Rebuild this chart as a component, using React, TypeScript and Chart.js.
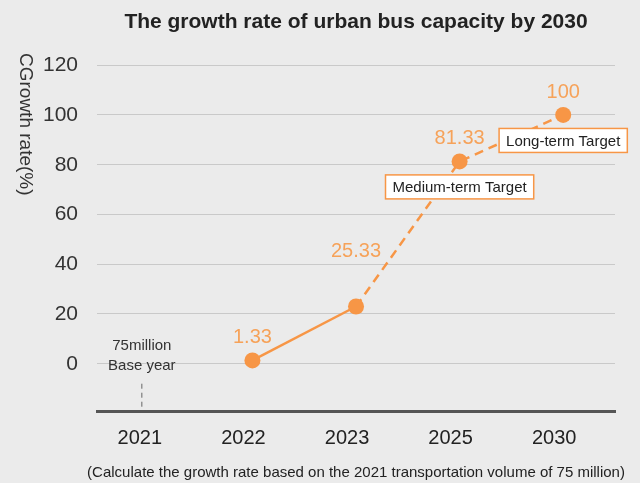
import React, { useEffect, useRef } from 'react';
import { Chart, registerables } from 'chart.js';

Chart.register(...registerables);

// ---- data ----
const years: string[] = ['2021', '2022', '2023', '2025', '2030'];
const growthValues: (number | null)[] = [null, 1.33, 23, 81.33, 100];
const valueLabels: string[] = ['', '1.33', '25.33', '81.33', '100'];
const targetLabels: string[] = ['', '', '', 'Medium-term Target', 'Long-term Target'];
const baseYearNote: string[] = ['75million', 'Base year'];
const yTickValues: number[] = [0, 20, 40, 60, 80, 100, 120];
const yMin = -19;
const yMax = 120;

const titleText = 'The growth rate of urban bus capacity by 2030';
const yTitleText = 'CGrowth rate(%)';
const footnoteText = '(Calculate the growth rate based on the 2021 transportation volume of 75 million)';

// ---- styles ----
const FONT = '"Liberation Sans", Arial, sans-serif';
const ORANGE = '#f79646';
const LABEL_ORANGE = '#f6a259';
const BG = '#ebebeb';
const labelLift = [0, 23, 55, 23, 22];

const bgPlugin = {
  id: 'bgFill',
  beforeDraw(chart: any) {
    const { ctx, width, height } = chart;
    ctx.save();
    ctx.fillStyle = BG;
    ctx.fillRect(0, 0, width, height);
    ctx.restore();
  },
};

const annotPlugin = {
  id: 'annot',
  afterDraw(chart: any) {
    const { ctx, chartArea } = chart;
    const meta = chart.getDatasetMeta(0);
    const xs = chart.scales.x;
    const ys = chart.scales.y;
    ctx.save();

    // y axis title (rotated)
    ctx.font = `19px ${FONT}`;
    ctx.fillStyle = '#333';
    ctx.textAlign = 'left';
    ctx.textBaseline = 'middle';
    ctx.translate(25, 53);
    ctx.rotate(Math.PI / 2);
    ctx.fillText(yTitleText, 0, 0);
    ctx.setTransform(1, 0, 0, 1, 0, 0);

    // footnote
    ctx.font = `15px ${FONT}`;
    ctx.fillStyle = '#222';
    ctx.textAlign = 'center';
    ctx.textBaseline = 'middle';
    ctx.fillText(footnoteText, (chartArea.left + chartArea.right) / 2, chart.height - 10);

    // value labels
    ctx.font = `20px ${FONT}`;
    ctx.fillStyle = LABEL_ORANGE;
    meta.data.forEach((pt: any, i: number) => {
      if (!valueLabels[i] || growthValues[i] == null) return;
      ctx.fillText(valueLabels[i], pt.x, pt.y - labelLift[i]);
    });

    // target boxes
    ctx.font = `15px ${FONT}`;
    targetLabels.forEach((t, i) => {
      if (!t) return;
      const pt = meta.data[i];
      const w = ctx.measureText(t).width + 14;
      const h = 24;
      const x = pt.x - w / 2;
      const y = pt.y + 13.5;
      ctx.fillStyle = '#ffffff';
      ctx.fillRect(x, y, w, h);
      ctx.strokeStyle = ORANGE;
      ctx.lineWidth = 1.5;
      ctx.strokeRect(x, y, w, h);
      ctx.fillStyle = '#222';
      ctx.fillText(t, pt.x, y + h / 2 + 1);
    });

    // base year note
    const bx = xs.getPixelForValue(0) - 7;
    const y0 = ys.getPixelForValue(0);
    ctx.font = `15px ${FONT}`;
    ctx.fillStyle = '#333';
    ctx.fillText(baseYearNote[0], bx, y0 - 18);
    ctx.fillText(baseYearNote[1], bx, y0 + 2);
    ctx.strokeStyle = '#666';
    ctx.lineWidth = 1;
    ctx.setLineDash([5, 4]);
    ctx.beginPath();
    ctx.moveTo(bx, y0 + 20);
    ctx.lineTo(bx, chartArea.bottom - 1);
    ctx.stroke();
    ctx.restore();
  },
};

export default function App() {
  const ref = useRef<HTMLCanvasElement | null>(null);

  useEffect(() => {
    document.body.style.margin = '0';
    document.body.style.background = BG;
    const canvas = ref.current;
    if (!canvas) return;
    const chart = new Chart(canvas, {
      type: 'line',
      data: {
        labels: years,
        datasets: [
          {
            data: growthValues,
            borderColor: ORANGE,
            backgroundColor: ORANGE,
            borderWidth: 2.5,
            pointRadius: 8,
            pointHoverRadius: 8,
            pointBorderWidth: 0,
            pointBackgroundColor: ORANGE,
            tension: 0,
            segment: {
              borderDash: (c: any) => (c.p0DataIndex >= 2 ? [9, 6] : undefined),
            },
          } as any,
        ],
      },
      options: {
        animation: false,
        responsive: true,
        maintainAspectRatio: false,
        layout: { padding: { left: 24, right: 25, top: 0, bottom: 18 } },
        plugins: {
          legend: { display: false },
          tooltip: { enabled: false },
          title: {
            display: true,
            text: titleText,
            fullSize: false,
            color: '#222',
            font: { family: FONT, size: 21, weight: 'bold', lineHeight: 1.2 },
            padding: { top: 10, bottom: 30 },
          },
        },
        scales: {
          x: {
            type: 'category',
            offset: true,
            grid: { display: false, drawTicks: false },
            border: { display: true, color: '#555', width: 3 },
            ticks: {
              color: '#222',
              font: { family: FONT, size: 20 },
              padding: 15,
              labelOffset: -9,
              maxRotation: 0,
            },
          },
          y: {
            type: 'linear',
            min: yMin,
            max: yMax,
            afterBuildTicks: (scale: any) => {
              scale.ticks = yTickValues.map((v) => ({ value: v }));
            },
            grid: { color: '#c9c9c9', lineWidth: 1, drawTicks: false },
            border: { display: false },
            ticks: {
              color: '#333',
              font: { family: FONT, size: 21 },
              padding: 19,
            },
          },
        },
      },
      plugins: [bgPlugin, annotPlugin],
    });
    return () => chart.destroy();
  }, []);

  return (
    <div style={{ position: 'fixed', left: 0, top: 0, width: 640, height: 483, background: BG }}>
      <canvas ref={ref} />
    </div>
  );
}
